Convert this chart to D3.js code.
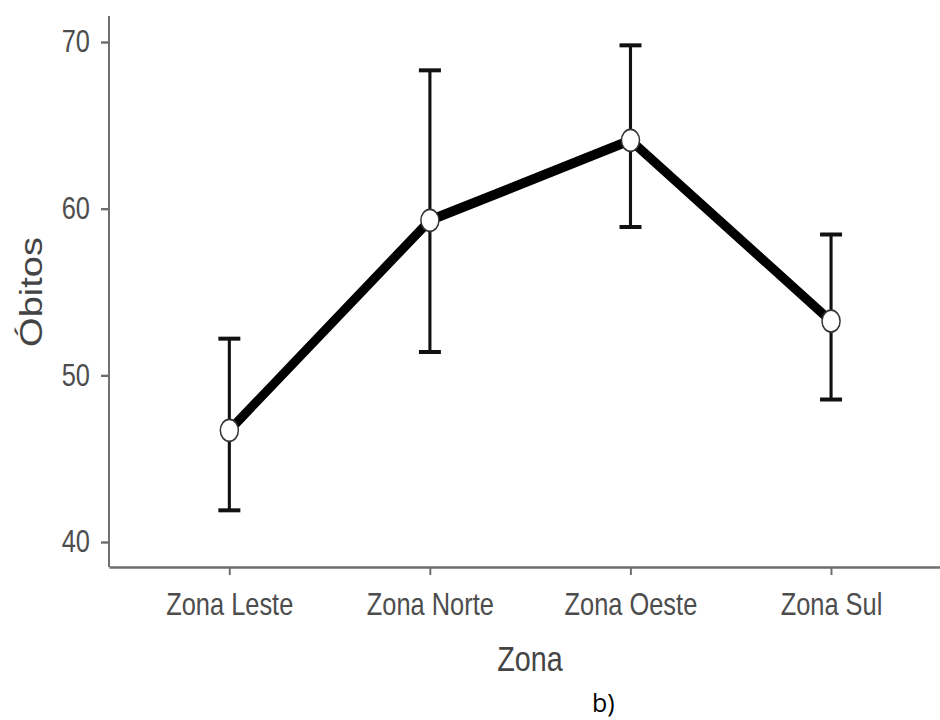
<!DOCTYPE html>
<html><head><meta charset="utf-8">
<script src="https://cdn.jsdelivr.net/npm/d3@7"></script>
<style>body{margin:0;background:#fff}svg{display:block}</style>
</head><body>
<svg id="c" width="940" height="720"></svg>
<script>
const categories = ["Zona Leste", "Zona Norte", "Zona Oeste", "Zona Sul"];
const means = [46.7, 59.3, 64.1, 53.25];
const lower = [41.9, 51.4, 58.9, 48.55];
const upper = [52.2, 68.3, 69.8, 58.45];
const yTicks = [40, 50, 60, 70];
const xTitle = "Zona", yTitle = "Óbitos", caption = "b)";

const sx = 0.82; // horizontal compression of the original picture
const svg = d3.select("#c");
const g = svg.append("g").attr("transform", `scale(${sx},1)`);
const X = v => v / sx;

const x = d3.scalePoint().domain(categories).range([X(109), X(951.4)]).padding(0.6);
const y = d3.scaleLinear().domain([38.5, 71.56]).range([567, 16]);
const axisColor = "#6e6e6e", textColor = "#4d4d4d";
const font = "'Liberation Sans', Arial, sans-serif";

// axes
const ya = g.append("g").attr("transform", `translate(${X(109)},0)`)
  .call(d3.axisLeft(y).tickValues(yTicks).tickSize(X(8)).tickPadding(X(11)).tickSizeOuter(0));
const xa = g.append("g").attr("transform", `translate(0,567)`)
  .call(d3.axisBottom(x).tickSize(8).tickPadding(18).tickSizeOuter(0));
[ya, xa].forEach(a => {
  a.select(".domain").attr("stroke", axisColor).attr("stroke-width", 2.4);
  a.selectAll(".tick line").attr("stroke", axisColor).attr("stroke-width", 2.4);
  a.selectAll(".tick text").attr("fill", textColor).style("font-family", font).style("font-size", "31px");
});
ya.select(".domain").attr("d", `M0,16V${567}`);

// error bars
const eb = g.append("g").selectAll("g").data(categories).join("g");
eb.append("line").attr("x1", d => x(d)).attr("x2", d => x(d))
  .attr("y1", (d, i) => y(upper[i])).attr("y2", (d, i) => y(lower[i]))
  .attr("stroke", "#111").attr("stroke-width", 3.8);
[upper, lower].forEach(arr => {
  eb.append("line").attr("x1", d => x(d) - X(11)).attr("x2", d => x(d) + X(11))
    .attr("y1", (d, i) => y(arr[i])).attr("y2", (d, i) => y(arr[i]))
    .attr("stroke", "#111").attr("stroke-width", 4);
});

// line
g.append("path").datum(categories)
  .attr("d", d3.line().x(d => x(d)).y(d => y(means[categories.indexOf(d)])))
  .attr("fill", "none").attr("stroke", "#000").attr("stroke-width", 10).attr("stroke-linejoin", "round");

// points
g.append("g").selectAll("circle").data(categories).join("circle")
  .attr("cx", d => x(d)).attr("cy", (d, i) => y(means[i])).attr("r", 11)
  .attr("fill", "#fff").attr("stroke", "#333").attr("stroke-width", 1.8);

// titles
g.append("text").attr("x", X(530)).attr("y", 671).attr("text-anchor", "middle")
  .style("font-family", font).style("font-size", "35px").attr("fill", "#444").text(xTitle);
g.append("text").attr("transform", `translate(${X(42)},292) rotate(-90)`).attr("text-anchor", "middle")
  .style("font-family", font).style("font-size", "38px").attr("fill", "#444").text(yTitle);

svg.append("text").attr("x", 592).attr("y", 712)
  .style("font-family", "'Open Sans', 'Liberation Sans', sans-serif").style("font-size", "25px").attr("fill", "#000").text(caption);
</script>
</body></html>
